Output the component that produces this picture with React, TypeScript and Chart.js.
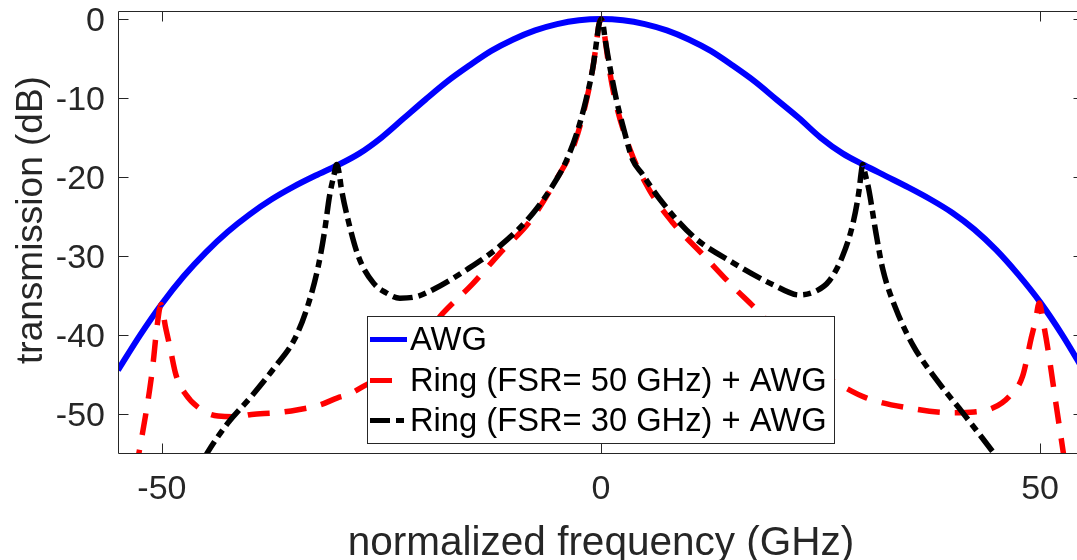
import React, { useEffect, useRef } from "react";
import { Chart, registerables } from "chart.js";

Chart.register(...registerables);

// ---------------- data ----------------
const seriesLabels = ["AWG", "Ring (FSR= 50 GHz) + AWG", "Ring (FSR= 30 GHz) + AWG"];
const xTitle = "normalized frequency (GHz)";
const yTitle = "transmission (dB)";
const xTicks = [-50, 0, 50];
const yTicks = [0, -10, -20, -30, -40, -50];

const awgX = [-55, -52.5, -50, -47.5, -45, -42.5, -40, -37.5, -35, -32.5, -30, -27.5, -25, -22.5, -20, -17.5, -15, -12.5, -10, -7.5, -5, -2.5, 0,
  2.5, 5, 7.5, 10, 12.5, 15, 17.5, 20, 22.5, 25, 27.5, 30, 32.5, 35, 37.5, 40, 42.5, 45, 47.5, 50, 52.5, 55];
const awgY = [-44.4, -40.0, -36.0, -32.5, -29.5, -26.9, -24.7, -22.8, -21.2, -19.8, -18.5, -17.0, -15.0, -12.6, -10.2, -7.9, -5.9, -4.05, -2.6, -1.45, -0.65, -0.16, 0,
  -0.16, -0.65, -1.45, -2.6, -4.05, -5.9, -7.9, -10.2, -12.5, -15.0, -17.0, -18.5, -19.9, -21.3, -22.8, -24.5, -26.6, -29.2, -32.3, -35.8, -39.9, -44.5];

const ring50X = [-53.0, -52.2, -51.4, -51.0, -50.6, -50.1, -49.6, -49.1, -48.4, -47.4, -45.5, -43.6, -41.5, -39.8, -37.0, -34.5, -32.0, -30.0, -28.8, -26.8, -25.0, -22.0, -20.0, -18.0, -14.7, -11.5, -8.1, -5.3, -3.0, -1.7, -0.9, -0.45, -0.25, 0,
  0.25, 0.45, 0.9, 1.6, 3.3, 5.5, 8.2, 11.6, 15.0, 18.1, 20.0, 22.0, 24.5, 26.8, 30.2, 35.1, 40.1, 42.5, 44.6, 46.5, 48.0, 49.0, 49.5, 49.9, 50.4, 50.9, 51.8, 52.6, 53.0];
const ring50Y = [-57.2, -52.3, -46.9, -43.5, -39.3, -36.1, -38.9, -41.4, -45.0, -47.3, -49.4, -50.2, -50.3, -50.0, -49.8, -49.4, -48.8, -47.9, -47.5, -46.3, -45.3, -42.3, -40.0, -37.2, -33.6, -29.6, -25.6, -20.7, -15.7, -10.5, -6.0, -2.4, -0.8, 0,
  -0.8, -2.4, -6.0, -10.2, -16.5, -21.6, -25.8, -29.8, -33.8, -37.2, -39.6, -42.0, -44.6, -46.0, -47.9, -49.2, -49.8, -49.7, -49.2, -47.7, -45.2, -40.3, -38.0, -35.9, -38.6, -41.8, -48.6, -54.5, -57.5];

const ring30X = [-45.2, -44.8, -42.5, -39.8, -37.2, -34.9, -33.4, -32.2, -31.5, -30.9, -30.4, -30.1, -29.8, -29.6, -28.8, -27.6, -25.9, -24.5, -22.9, -21.0, -19.1, -15.3, -11.5, -7.7, -4.7, -3.9, -2.8, -1.7, -0.9, -0.45, -0.25, 0,
  0.25, 0.45, 1.0, 1.75, 2.7, 3.6, 4.7, 6.7, 10.5, 15.0, 19.6, 22.6, 24.5, 26.0, 27.5, 28.7, 29.4, 29.6, 29.8, 30.1, 30.5, 31.3, 32.1, 33.6, 35.5, 38.2, 41.2, 44.6, 45.2];
const ring30Y = [-55.6, -54.8, -51.1, -47.7, -44.1, -40.5, -36.3, -31.3, -27.0, -22.3, -19.7, -18.4, -19.6, -21.2, -25.4, -30.1, -33.4, -34.6, -35.3, -35.1, -34.2, -31.7, -28.7, -24.5, -19.6, -17.8, -14.6, -10.2, -6.0, -2.4, -0.8, 0,
  -0.8, -2.4, -6.0, -10.2, -14.4, -17.8, -19.6, -22.8, -27.5, -30.8, -33.6, -34.9, -34.4, -33.1, -30.0, -25.8, -21.6, -19.7, -18.4, -19.7, -21.6, -27.0, -31.7, -36.7, -41.2, -45.6, -49.8, -54.7, -55.6];

// ---------------- styling ----------------
const FONT = '"Liberation Sans", Arial, Helvetica, sans-serif';
const AXIS_COLOR = "#262626";

function pts(xs: number[], ys: number[]) {
  return xs.map((x, i) => ({ x, y: ys[i] }));
}

const overlayPlugin = {
  id: "overlay",
  afterDatasetsDraw(chart: any) {
    const { ctx, chartArea: a, scales } = chart;
    const xs = scales.x;
    const ys = scales.y;
    ctx.save();
    ctx.setLineDash([]);
    ctx.strokeStyle = AXIS_COLOR;
    ctx.lineWidth = 1;
    const L = Math.round(a.left) + 0.5;
    const R = Math.round(a.right) - 0.5;
    const T = Math.round(a.top) + 0.5;
    const B = Math.round(a.bottom) - 0.5;
    ctx.beginPath();
    ctx.rect(L, T, R - L, B - T);
    ctx.stroke();
    const tl = 10;
    ctx.beginPath();
    for (const v of xTicks) {
      const px = Math.round(xs.getPixelForValue(v)) + 0.5;
      ctx.moveTo(px, B);
      ctx.lineTo(px, B - tl);
      ctx.moveTo(px, T);
      ctx.lineTo(px, T + tl);
    }
    for (const v of yTicks) {
      const py = Math.round(ys.getPixelForValue(v)) + 0.5;
      ctx.moveTo(L, py);
      ctx.lineTo(L + tl, py);
      ctx.moveTo(R, py);
      ctx.lineTo(R - tl, py);
    }
    ctx.stroke();

    // legend box
    const bx = 367.5, by = 316.5, bw = 467, bh = 127;
    ctx.fillStyle = "#ffffff";
    ctx.fillRect(bx, by, bw, bh);
    ctx.strokeStyle = AXIS_COLOR;
    ctx.lineWidth = 1;
    ctx.strokeRect(bx, by, bw, bh);
    const rows = [339.5, 380.5, 420.5];
    chart.data.datasets.forEach((ds: any, i: number) => {
      const y = rows[i];
      ctx.save();
      ctx.strokeStyle = ds.borderColor;
      ctx.lineWidth = Math.min(ds.borderWidth, 5);
      ctx.lineCap = "butt";
      ctx.setLineDash(ds.borderDash || []);
      ctx.beginPath();
      ctx.moveTo(370, y);
      ctx.lineTo(407, y);
      ctx.stroke();
      ctx.restore();
      ctx.fillStyle = "#000000";
      ctx.font = `32.7px ${FONT}`;
      ctx.textAlign = "left";
      ctx.textBaseline = "middle";
      ctx.fillText(ds.label, 410, y + 1.5);
    });
    ctx.restore();
  },
  afterDraw(chart: any) {
    const { ctx, chartArea: a } = chart;
    ctx.save();
    ctx.fillStyle = AXIS_COLOR;
    ctx.textAlign = "center";
    ctx.font = `40.5px ${FONT}`;
    ctx.textBaseline = "alphabetic";
    ctx.fillText(xTitle, (a.left + a.right) / 2, 555);
    ctx.translate(32, 220);
    ctx.rotate(-Math.PI / 2);
    ctx.font = `37px ${FONT}`;
    ctx.textBaseline = "middle";
    ctx.fillText(yTitle, 0, 0);
    ctx.restore();
  },
};

export default function App() {
  const canvasRef = useRef<HTMLCanvasElement | null>(null);

  useEffect(() => {
    document.body.style.overflow = "hidden";
    const canvas = canvasRef.current;
    if (!canvas) return;
    const common = { pointRadius: 0, fill: false, cubicInterpolationMode: "monotone", clip: 0, borderCapStyle: "butt", borderJoinStyle: "round" };
    const chart = new Chart(canvas, {
      type: "line",
      data: {
        datasets: [
          { ...common, label: seriesLabels[0], data: pts(awgX, awgY), borderColor: "#0000ff", borderWidth: 6, order: 3 },
          { ...common, label: seriesLabels[1], data: pts(ring50X, ring50Y), borderColor: "#ff0000", borderWidth: 5.5, borderDash: [22, 15], order: 2 },
          { ...common, label: seriesLabels[2], data: pts(ring30X, ring30Y), borderColor: "#000000", borderWidth: 5.5, borderDash: [20, 6, 8, 6], order: 1 },
        ],
      } as any,
      options: {
        animation: false,
        responsive: false,
        devicePixelRatio: 1,
        events: [],
        layout: { padding: { top: 11, right: 16, left: 0, bottom: 0 } },
        plugins: { legend: { display: false }, tooltip: { enabled: false } },
        scales: {
          x: {
            type: "linear",
            min: -55,
            max: 55,
            grid: { display: false, drawTicks: false },
            border: { display: false },
            ticks: {
              stepSize: 50,
              includeBounds: false,
              padding: 15,
              color: AXIS_COLOR,
              maxRotation: 0,
              autoSkip: false,
              font: { family: FONT, size: 34 },
            },
            afterFit: (s: any) => {
              s.height = 106;
              s.paddingLeft = 0;
              s.paddingRight = 0;
            },
          },
          y: {
            type: "linear",
            min: -55,
            max: 1,
            grid: { display: false, drawTicks: false },
            border: { display: false },
            ticks: {
              stepSize: 10,
              includeBounds: false,
              padding: 13,
              labelOffset: 2.5,
              color: AXIS_COLOR,
              autoSkip: false,
              font: { family: FONT, size: 34 },
            },
            afterFit: (s: any) => {
              s.width = 118;
              s.paddingTop = 0;
              s.paddingBottom = 0;
            },
          },
        },
      } as any,
      plugins: [overlayPlugin as any],
    });
    return () => chart.destroy();
  }, []);

  return (
    <div style={{ position: "fixed", left: 0, top: 0, width: 1100, height: 560, background: "#ffffff" }}>
      <canvas ref={canvasRef} width={1100} height={560} style={{ display: "block", width: 1100, height: 560 }} />
    </div>
  );
}
